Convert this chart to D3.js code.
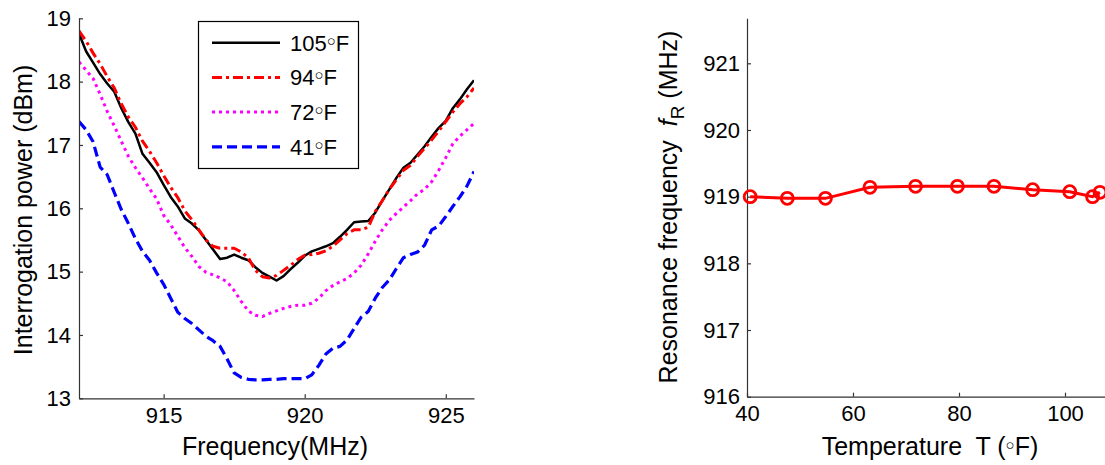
<!DOCTYPE html>
<html>
<head>
<meta charset="utf-8">
<script src="https://cdn.jsdelivr.net/npm/d3@7"></script>
<style>
  body { margin: 0; background: #fff; }
  svg { display: block; font-family: "Liberation Sans", Arial, sans-serif; }
  .axis path, .axis line { stroke: #333; stroke-width: 1.2; }
  .axis text { font-size: 22px; fill: #000; font-family: "Liberation Sans", Arial, sans-serif; }
  .label { font-size: 25px; fill: #000; white-space: pre; }
</style>
</head>
<body>
<svg class="chart"></svg>
<script>
// DATA
var frequency = [912.00, 912.25, 912.50, 912.75, 913.00, 913.25, 913.50, 913.75, 914.00, 914.25,
  914.50, 914.75, 915.00, 915.25, 915.50, 915.75, 916.00, 916.25, 916.50, 916.75,
  917.00, 917.25, 917.50, 917.75, 918.00, 918.25, 918.50, 918.75, 919.00, 919.25,
  919.50, 919.75, 920.00, 920.25, 920.50, 920.75, 921.00, 921.25, 921.50, 921.75,
  922.00, 922.25, 922.50, 922.75, 923.00, 923.25, 923.50, 923.75, 924.00, 924.25,
  924.50, 924.75, 925.00, 925.25, 925.50, 925.75, 926.00];

var power105 = [18.76, 18.48, 18.30, 18.12, 17.97, 17.84, 17.58, 17.36, 17.18, 16.86,
  16.72, 16.57, 16.37, 16.18, 16.03, 15.84, 15.76, 15.65, 15.50, 15.35,
  15.20, 15.22, 15.27, 15.22, 15.18, 15.07, 14.98, 14.92, 14.86, 14.93,
  15.04, 15.14, 15.25, 15.32, 15.36, 15.40, 15.45, 15.55, 15.66, 15.78,
  15.79, 15.80, 15.93, 16.12, 16.30, 16.48, 16.64, 16.72, 16.85, 16.98,
  17.13, 17.27, 17.38, 17.58, 17.72, 17.88, 18.02];

var power94 = [18.80, 18.64, 18.45, 18.28, 18.08, 17.90, 17.65, 17.44, 17.28, 17.06,
  16.90, 16.72, 16.52, 16.33, 16.17, 15.96, 15.82, 15.66, 15.50, 15.40,
  15.37, 15.37, 15.37, 15.31, 15.22, 15.02, 14.92, 14.90, 14.94, 15.02,
  15.10, 15.19, 15.26, 15.27, 15.29, 15.33, 15.40, 15.50, 15.60, 15.66,
  15.66, 15.70, 15.95, 16.12, 16.30, 16.45, 16.60, 16.68, 16.82, 16.95,
  17.08, 17.22, 17.37, 17.52, 17.65, 17.76, 17.90];

var power72 = [18.31, 18.18, 18.05, 17.80, 17.53, 17.30, 17.06, 16.82, 16.64, 16.48,
  16.31, 16.15, 15.89, 15.74, 15.56, 15.38, 15.24, 15.08, 14.99, 14.95,
  14.90, 14.84, 14.70, 14.53, 14.38, 14.31, 14.29, 14.34, 14.38, 14.42,
  14.45, 14.47, 14.47, 14.50, 14.58, 14.70, 14.78, 14.84, 14.89, 14.98,
  15.10, 15.28, 15.48, 15.66, 15.81, 15.92, 16.02, 16.12, 16.23, 16.30,
  16.42, 16.60, 16.80, 17.02, 17.14, 17.24, 17.34];

var power41 = [17.37, 17.24, 17.05, 16.65, 16.53, 16.25, 15.98, 15.76, 15.52, 15.32,
  15.18, 14.98, 14.80, 14.58, 14.36, 14.26, 14.18, 14.08, 13.98, 13.91,
  13.82, 13.62, 13.40, 13.33, 13.30, 13.29, 13.29, 13.30, 13.30, 13.31,
  13.31, 13.31, 13.31, 13.37, 13.52, 13.70, 13.79, 13.82, 13.92, 14.10,
  14.28, 14.37, 14.58, 14.75, 14.87, 15.05, 15.22, 15.27, 15.31, 15.42,
  15.66, 15.72, 15.87, 16.03, 16.18, 16.35, 16.58];

var seriesTemps = ["105", "94", "72", "41"];

var temperature = [40.6, 47.6, 54.8, 63.2, 71.8, 79.7, 86.6, 93.9, 100.9, 105.2, 106.6];
var resonance = [919.00, 918.975, 918.975, 919.14, 919.155, 919.155, 919.155, 919.105, 919.075, 919.00, 919.065];

var freqTicks = [915, 920, 925];
var powerTicks = [13, 14, 15, 16, 17, 18, 19];
var tempTicks = [40, 60, 80, 100];
var resTicks = [916, 917, 918, 919, 920, 921];

// INITIALIZE SVG
var svg = d3.select(".chart").attr("width", 1105).attr("height", 465);

// LINE STYLES
var styles = [
  {color: "#000000", width: 2.5, dash: null},
  {color: "#ff0000", width: 3, dash: "10,4,3,4"},
  {color: "#ff00ff", width: 3, dash: "3,4"},
  {color: "#0000ff", width: 3.2, dash: "10,5"}
];
var allPower = [power105, power94, power72, power41];

// degree sign drawn as a small circle, like the original
function degree(sel) {
  sel.append("tspan").attr("dy", -5).style("font-size", "15px").text("\u25CB");
  sel.append("tspan").attr("dy", 5).text("F");
}

// LEFT PLOT SCALES
var x1 = d3.scaleLinear().domain([912, 926]).range([79, 474]);
var y1 = d3.scaleLinear().domain([13, 19]).range([398.3, 18.3]);

svg.append("clipPath").attr("id", "clipL")
  .append("rect").attr("x", 79).attr("y", 18.3).attr("width", 395).attr("height", 380);

var line1 = d3.line()
  .x(function(d, i) { return x1(frequency[i]); })
  .y(function(d) { return y1(d); });

svg.append("g").attr("clip-path", "url(#clipL)")
  .selectAll(".curve").data(allPower)
  .enter().append("path")
    .attr("class", "curve")
    .attr("d", line1)
    .attr("fill", "none")
    .attr("stroke", function(d, i) { return styles[i].color; })
    .attr("stroke-width", function(d, i) { return styles[i].width; })
    .attr("stroke-dasharray", function(d, i) { return styles[i].dash; })
    .attr("stroke-linejoin", "round");

// LEFT AXES
svg.append("g")
    .attr("class", "axis")
    .attr("transform", "translate(0," + y1.range()[0] + ")")
    .call(d3.axisBottom(x1).tickValues(freqTicks).tickFormat(d3.format("d"))
      .tickSizeInner(-4).tickSizeOuter(0).tickPadding(9));

svg.append("g")
    .attr("class", "axis")
    .attr("transform", "translate(" + x1.range()[0] + ",0)")
    .call(d3.axisLeft(y1).tickValues(powerTicks).tickFormat(d3.format("d"))
      .tickSizeInner(-4).tickSizeOuter(0).tickPadding(8));

svg.append("text")
    .attr("class", "label")
    .attr("x", 275).attr("y", 455)
    .attr("text-anchor", "middle")
    .text("Frequency(MHz)");

svg.append("text")
    .attr("class", "label")
    .attr("transform", "translate(32,210) rotate(-90)")
    .attr("text-anchor", "middle")
    .text("Interrogation power (dBm)");

// LEGEND
var legend = svg.append("g").attr("class", "legend");
legend.append("rect")
    .attr("x", 198.5).attr("y", 21.5).attr("width", 160).attr("height", 147)
    .attr("fill", "#fff").attr("stroke", "#000").attr("stroke-width", 1.2);

var rows = legend.selectAll(".row").data(seriesTemps)
  .enter().append("g")
    .attr("class", "row")
    .attr("transform", function(d, i) { return "translate(0," + (42.7 + i * 34.7) + ")"; });

rows.append("line")
    .attr("x1", 212).attr("x2", 280)
    .attr("stroke", function(d, i) { return styles[i].color; })
    .attr("stroke-width", function(d, i) { return styles[i].width; })
    .attr("stroke-dasharray", function(d, i) { return styles[i].dash; });

rows.append("text")
    .attr("x", 290).attr("y", 8)
    .style("font-size", "22px")
    .each(function(d) {
      var t = d3.select(this);
      t.append("tspan").text(d);
      degree(t);
    });

// RIGHT PLOT SCALES
var x2 = d3.scaleLinear().domain([40, 110]).range([747, 1118]);
var y2 = d3.scaleLinear().domain([916, 921.675]).range([396.7, 18.3]);

svg.append("g")
    .attr("class", "axis")
    .attr("transform", "translate(0," + y2.range()[0] + ")")
    .call(d3.axisBottom(x2).tickValues(tempTicks).tickFormat(d3.format("d"))
      .tickSizeInner(-4).tickSizeOuter(0).tickPadding(9));

svg.append("g")
    .attr("class", "axis")
    .attr("transform", "translate(" + x2.range()[0] + ",0)")
    .call(d3.axisLeft(y2).tickValues(resTicks).tickFormat(d3.format("d"))
      .tickSizeInner(-4).tickSizeOuter(0).tickPadding(7));

var line2 = d3.line()
  .x(function(d, i) { return x2(temperature[i]); })
  .y(function(d) { return y2(d); });

svg.append("path")
    .datum(resonance)
    .attr("d", line2)
    .attr("fill", "none")
    .attr("stroke", "#ff0000")
    .attr("stroke-width", 3);

svg.selectAll(".dot").data(resonance)
  .enter().append("circle")
    .attr("class", "dot")
    .attr("cx", function(d, i) { return x2(temperature[i]); })
    .attr("cy", function(d) { return y2(d); })
    .attr("r", 6)
    .attr("fill", "none")
    .attr("stroke", "#ff0000")
    .attr("stroke-width", 2.8);

var xlab = svg.append("text")
    .attr("class", "label")
    .attr("x", 930).attr("y", 455)
    .attr("text-anchor", "middle");
xlab.append("tspan").text("Temperature  T (");
degree(xlab);
xlab.append("tspan").text(")");

var ylab = svg.append("text")
    .attr("class", "label")
    .attr("transform", "translate(677,207) rotate(-90)")
    .attr("text-anchor", "middle");
ylab.append("tspan").text("Resonance frequency  ");
ylab.append("tspan").style("font-style", "italic").text("f");
ylab.append("tspan").attr("dy", 7).style("font-size", "19px").text("R");
ylab.append("tspan").attr("dy", -7).text(" (MHz)");
</script>
</body>
</html>
